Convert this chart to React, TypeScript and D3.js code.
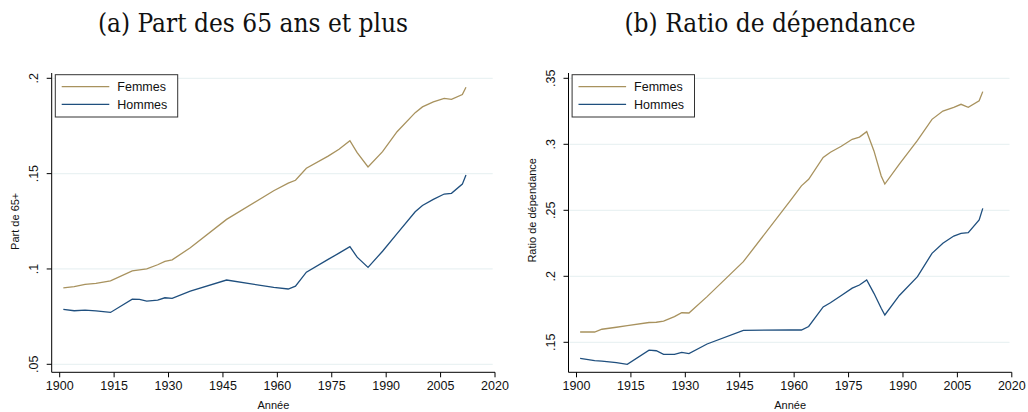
import React from "react";
import * as d3 from "d3";

// ---- Data ----
const yearsA = [1901, 1904, 1907, 1910, 1914, 1920, 1922, 1924, 1927, 1929, 1931, 1936, 1946, 1959, 1963, 1965, 1968, 1974, 1977, 1980, 1982, 1985, 1989, 1993, 1998, 2000, 2003, 2006, 2008, 2011, 2012];
const femmesA = [0.0901, 0.0907, 0.0919, 0.0924, 0.0938, 0.099, 0.0995, 0.1, 0.1022, 0.104, 0.1048, 0.1111, 0.126, 0.141, 0.145, 0.1465, 0.1528, 0.1592, 0.1628, 0.1673, 0.161, 0.1535, 0.1615, 0.172, 0.182, 0.185, 0.1876, 0.1895, 0.189, 0.1915, 0.1953];
const hommesA = [0.0788, 0.0781, 0.0784, 0.078, 0.0772, 0.0842, 0.084, 0.0831, 0.0837, 0.0849, 0.0846, 0.0884, 0.0942, 0.0903, 0.0895, 0.091, 0.0983, 0.105, 0.1083, 0.1117, 0.1062, 0.1008, 0.1093, 0.1185, 0.13, 0.1333, 0.1365, 0.1393, 0.1397, 0.1445, 0.1493];

const yearsB = [1901, 1905, 1907, 1911, 1914, 1920, 1922, 1924, 1927, 1929, 1931, 1936, 1946, 1959, 1962, 1964, 1968, 1970, 1973, 1976, 1978, 1980, 1982, 1984, 1985, 1989, 1994, 1998, 2001, 2004, 2006, 2008, 2011, 2012];
const femmesB = [0.1578, 0.1578, 0.1599, 0.1614, 0.1626, 0.165, 0.1652, 0.166, 0.1695, 0.1724, 0.1722, 0.1846, 0.2111, 0.2575, 0.2685, 0.2735, 0.29, 0.294, 0.2985, 0.3038, 0.3055, 0.3096, 0.295, 0.276, 0.2699, 0.285, 0.303, 0.3189, 0.3252, 0.328, 0.3303, 0.328, 0.333, 0.3399];
const hommesB = [0.1379, 0.1361, 0.1358, 0.1346, 0.1333, 0.1441, 0.1436, 0.1409, 0.1409, 0.1424, 0.1414, 0.1487, 0.1591, 0.1593, 0.1593, 0.162, 0.1768, 0.18, 0.1855, 0.191, 0.1934, 0.1972, 0.1871, 0.1758, 0.1707, 0.1855, 0.1997, 0.2174, 0.225, 0.2305, 0.2325, 0.233, 0.2427, 0.2515];

const xTicks = [1900, 1915, 1930, 1945, 1960, 1975, 1990, 2005, 2020];
const yTicksA = [0.05, 0.1, 0.15, 0.2];
const yTicksB = [0.15, 0.2, 0.25, 0.3, 0.35];
const seriesNames = ["Femmes", "Hommes"];
const colors = ["#a8925e", "#1f4f7e"];

const sans = "'Liberation Sans', Arial, sans-serif";
const serif = "'DejaVu Serif Condensed', 'DejaVu Serif', serif";

function fmt(v: number) {
  const s = d3.format("")(+v.toFixed(3));
  return s.replace(/^0/, "");
}

type PanelProps = {
  left: number;
  years: number[];
  f: number[];
  h: number[];
  yDomain: [number, number];
  yRange: [number, number];
  yTicks: number[];
  yTitle: string;
  title: string;
  titleX: number;
};

function Panel(p: PanelProps) {
  const L = p.left;
  const axisX = L;
  const x = d3.scaleLinear().domain([1900, 2020]).range([L + 8, L + 443.3]);
  const y = d3.scaleLinear().domain(p.yDomain).range(p.yRange);
  const axisY = 372.3;
  const plotRight = L + 441;
  const line = d3
    .line<[number, number]>()
    .x((d) => x(d[0]))
    .y((d) => y(d[1]));
  const fData: [number, number][] = p.years.map((yr, i) => [yr, p.f[i]]);
  const hData: [number, number][] = p.years.map((yr, i) => [yr, p.h[i]]);
  const midY = (p.yRange[0] + p.yRange[1]) / 2;
  return (
    <g>
      <text x={p.titleX} y={32} textAnchor="middle" fontFamily={serif} fontSize={26} fill="#111">
        {p.title}
      </text>
      {p.yTicks.map((t) => (
        <line key={"g" + t} x1={axisX + 1} x2={plotRight} y1={y(t)} y2={y(t)} stroke="#eaf2f3" strokeWidth={1.2} />
      ))}
      <path d={line(fData) || ""} fill="none" stroke={colors[0]} strokeWidth={1.3} />
      <path d={line(hData) || ""} fill="none" stroke={colors[1]} strokeWidth={1.3} />
      {/* y axis */}
      <line x1={axisX} x2={axisX} y1={73} y2={axisY} stroke="#000" strokeWidth={1} />
      {p.yTicks.map((t) => (
        <g key={"y" + t}>
          <line x1={axisX - 5} x2={axisX} y1={y(t)} y2={y(t)} stroke="#000" strokeWidth={1} />
          <text
            transform={`translate(${axisX - 14},${y(t)}) rotate(-90)`}
            textAnchor="middle"
            fontFamily={sans}
            fontSize={12.5}
            fill="#111"
          >
            {fmt(t)}
          </text>
        </g>
      ))}
      <text
        transform={`translate(${axisX - 33},${midY}) rotate(-90)`}
        textAnchor="middle"
        fontFamily={sans}
        fontSize={11}
        fill="#111"
      >
        {p.yTitle}
      </text>
      {/* x axis */}
      <line x1={axisX} x2={x(2020)} y1={axisY} y2={axisY} stroke="#000" strokeWidth={1} />
      {xTicks.map((t) => (
        <g key={"x" + t}>
          <line x1={x(t)} x2={x(t)} y1={axisY} y2={axisY + 5} stroke="#000" strokeWidth={1} />
          <text x={x(t)} y={389.5} textAnchor="middle" fontFamily={sans} fontSize={12.5} fill="#111">
            {t}
          </text>
        </g>
      ))}
      <text x={(axisX + x(2020)) / 2} y={408.5} textAnchor="middle" fontFamily={sans} fontSize={11} fill="#111">
        Année
      </text>
      {/* legend */}
      <rect x={L + 3.6} y={74.7} width={122.4} height={42.3} fill="#fff" stroke="#333" strokeWidth={1} />
      {seriesNames.map((n, i) => (
        <g key={n}>
          <line x1={L + 10} x2={L + 57.6} y1={86.7 + i * 17.6} y2={86.7 + i * 17.6} stroke={colors[i]} strokeWidth={1.3} />
          <text x={L + 65.6} y={91 + i * 17.6} fontFamily={sans} fontSize={12.5} fill="#111">
            {n}
          </text>
        </g>
      ))}
    </g>
  );
}

export default function App() {
  return (
    <svg width={1028} height={412} style={{ position: "absolute", left: 0, top: 0, background: "#fff" }}>
      <rect width={1028} height={412} fill="#fff" />
      <Panel
        left={51.7}
        years={yearsA}
        f={femmesA}
        h={hommesA}
        yDomain={[0.05, 0.2]}
        yRange={[364.3, 78.3]}
        yTicks={yTicksA}
        yTitle="Part de 65+"
        title="(a) Part des 65 ans et plus"
        titleX={253}
      />
      <Panel
        left={568.5}
        years={yearsB}
        f={femmesB}
        h={hommesB}
        yDomain={[0.15, 0.35]}
        yRange={[342.3, 78.3]}
        yTicks={yTicksB}
        yTitle="Ratio de dépendance"
        title="(b) Ratio de dépendance"
        titleX={770}
      />
    </svg>
  );
}
